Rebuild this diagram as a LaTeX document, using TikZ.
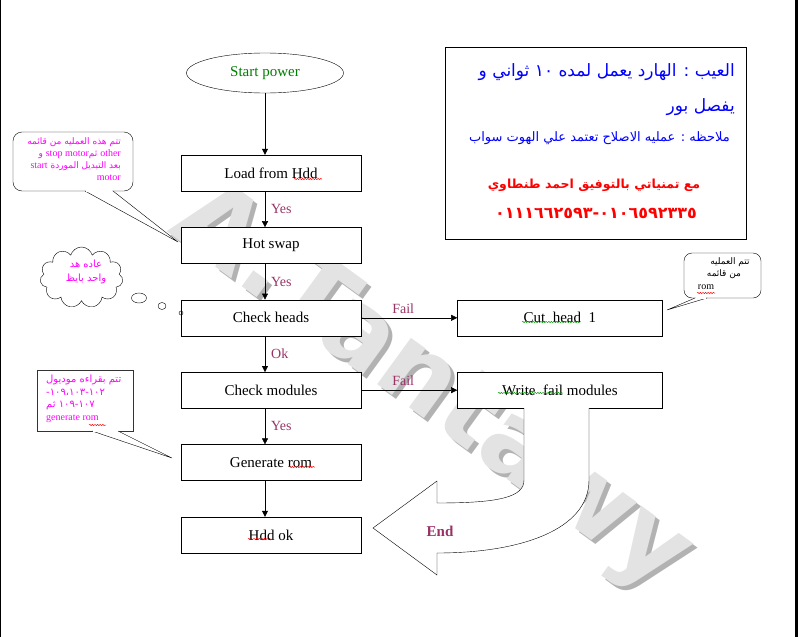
\documentclass[tikz,border=0pt]{standalone}
\usepackage{fontspec}
\setmainfont{Liberation Serif}
\newfontfamily\arfont[Script=Arabic]{DejaVu Sans}
\newfontfamily\wmfont{DejaVu Sans}
\TeXXeTstate=1
\usetikzlibrary{positioning,arrows.meta,shapes.geometric,shapes.symbols,decorations.pathmorphing}
\definecolor{wine}{HTML}{993366}
\definecolor{dgreen}{HTML}{008000}
\definecolor{pinkm}{HTML}{FF00FF}
\definecolor{arblue}{HTML}{0000FF}
\definecolor{arred}{HTML}{FF0000}

\begin{document}
\begin{tikzpicture}[x=1pt,y=-1pt,every node/.style={font=\fontsize{15}{17}\selectfont,inner sep=0pt},
      stepbox/.style={draw,fill=white,minimum width=180pt,minimum height=36pt},
      sidebox/.style={draw,fill=white,minimum width=205pt,minimum height=36pt},
      lbl/.style={text=wine,font=\fontsize{14}{16}\selectfont},
      arr/.style={-{Triangle[length=6pt,width=6pt]},thin},
      sq/.style={decorate,decoration={snake,amplitude=0.6pt,segment length=2.6pt},line width=0.5pt},
      note/.style={font=\arfont\fontsize{9}{12}\selectfont,text=pinkm},
      wmark/.style={rotate=-36,font=\wmfont\bfseries\fontsize{105}{105}\selectfont}]
    \useasboundingbox (0,0) rectangle (798,637);
    \node[wmark,text=gray!60] at (434,394) {A.Tantawy};
    \node[wmark,text=gray!22] (wm) at (430,390) {A.Tantawy};
    \draw[line width=1pt] (0.5,0) -- (0.5,637);
    \draw[line width=3pt] (796.5,0) -- (796.5,637);

    \node[ellipse,draw,fill=white,minimum width=157pt,minimum height=40pt,text=dgreen] (sp) at (265,73) {Start power};
    \node[stepbox] (load) at (271,173) {Load from Hdd};
    \node[stepbox,below=36pt of load] (hot) {Hot swap};
    \node[stepbox,below=36pt of hot] (heads) {Check heads};
    \node[stepbox,below=36pt of heads] (mods) {Check modules};
    \node[stepbox,below=36pt of mods] (gen) {Generate rom};
    \node[stepbox,below=36pt of gen] (hok) {Hdd ok};
    \node[sidebox,right=96pt of heads] (cut) {Cut~ head~ 1};
    \node[sidebox,right=96pt of mods] (wf) {Write~ fail modules};

    \draw[arr] (sp) -- (sp |- load.north);
    \draw[arr] (load.south -| sp) -- node[lbl,right=6pt] {Yes} (hot.north -| sp);
    \draw[arr] (hot.south -| sp) -- node[lbl,right=6pt] {Yes} (heads.north -| sp);
    \draw[arr] (heads.south -| sp) -- node[lbl,right=6pt] {Ok} (mods.north -| sp);
    \draw[arr] (mods.south -| sp) -- node[lbl,right=6pt] {Yes} (gen.north -| sp);
    \draw[arr] (gen.south -| sp) -- (hok.north -| sp);
    \draw[arr] (heads) -- node[lbl,above=4pt,xshift=-6pt] {Fail} (cut);
    \draw[arr] (mods) -- node[lbl,above=4pt,xshift=-6pt] {Fail} (wf);

    \draw[thin,fill=white] (524,408) -- (524,480) .. controls (524,497) and (500,503) .. (437,503) -- (437,481) -- (373,528)
      -- (437,575) -- (437,553) .. controls (520,553) and (589,530) .. (589,480) -- (589,408);
    \node[text=wine,font=\bfseries\fontsize{15}{17}\selectfont] (end) at (440,531) {End};

    \draw[sq,red] (294,179) -- (322,179);
    \draw[sq,red] (289,467) -- (315,467);
    \draw[sq,red] (248,539) -- (272,539);
    \draw[sq,green!60!black] (522,322) -- (580,322);
    \draw[sq,green!60!black] (498,393) -- (563,393);

    \node[draw,fill=white,minimum width=301pt,minimum height=192pt] (info) at (595.5,143) {};
    \node[anchor=east,text=arblue,font=\arfont\fontsize{17}{19}\selectfont] (ar1) at (735,72)
      {\beginR العيب : الهارد يعمل لمده \beginL\mbox{١٠}\endL{} ثواني و\endR};
    \node[anchor=east,text=arblue,font=\arfont\fontsize{17}{19}\selectfont] (ar2) at (735,107) {\beginR يفصل بور\endR};
    \node[anchor=east,text=arblue,font=\arfont\fontsize{13}{15}\selectfont] (ar3) at (730,138)
      {\beginR ملاحظه : عمليه الاصلاح تعتمد علي الهوت سواب\endR};
    \node[text=arred,font=\arfont\bfseries\fontsize{12.5}{15}\selectfont] (ar4) at (594,185)
      {\beginR مع تمنياتي بالتوفيق احمد طنطاوي\endR};
    \node[text=arred,font=\arfont\bfseries\fontsize{16}{18}\selectfont] (ar5) at (596,213)
      {\mbox{٠١١١٦٦٢٥٩٣}\mbox{-}\mbox{٠١٠٦٥٩٢٣٣٥}};

    \node[draw,fill=white,rounded corners=9pt,minimum width=120pt,minimum height=59pt] (c1) at (73,161.5) {};
    \coordinate (t1) at (178,242);
    \draw[fill=white] (85,191) -- (t1) -- (113,191);
    \draw[white,line width=1.2pt] (86,191) -- (112,191);
    \node[note,anchor=north east,align=right] (c1t) at (121,137)
      {\beginR تتم هذه العمليه من قائمه\endR\\
       \mbox{و}~{\rmfamily\fontsize{10}{12}\selectfont stop motor}\mbox{ثم}~{\rmfamily\fontsize{10}{12}\selectfont other}\\
       {\rmfamily\fontsize{10}{12}\selectfont start}~\beginR بعد التبديل الموردة\endR\\
       {\rmfamily\fontsize{10}{12}\selectfont motor}};

    \node[cloud,draw,fill=white,cloud puffs=11,aspect=1.35,minimum width=83pt,minimum height=61pt] (cl) at (81.5,277.5) {};
    \node[note,align=center,font=\arfont\fontsize{10}{14}\selectfont] (clt) at (86,272) {\beginR عاده هد\endR\\\beginR واحد بايظ\endR};
    \draw (139,298) ellipse [x radius=7.5pt,y radius=5pt];
    \draw (162,306) ellipse [x radius=4pt,y radius=3.5pt];
    \draw (181,313) circle [radius=2pt];

    \node[draw,fill=white,rounded corners=8pt,minimum width=77pt,minimum height=45pt] (c3) at (722.5,275.5) {};
    \coordinate (t3) at (667,310);
    \draw[fill=white] (695,298) -- (t3) -- (707,298);
    \draw[white,line width=1.2pt] (696,298) -- (706,298);
    \node[note,text=black] (c3a) at (730,262) {\beginR تتم العمليه\endR};
    \node[note,text=black] (c3b) at (724,274) {\beginR من قائمه\endR};
    \node[note,text=black,font=\fontsize{10}{12}\selectfont] (c3c) at (706,287) {rom};
    \draw[sq,red] (697,293) -- (715,293);

    \node[draw=black!80,fill=white,minimum width=96pt,minimum height=61pt] (c4) at (85,400.5) {};
    \coordinate (t4) at (172,458);
    \draw[fill=white] (92,431) -- (t4) -- (118,431);
    \draw[white,line width=1.2pt] (93,431) -- (117,431);
    \node[note,anchor=north west,align=left,font=\arfont\fontsize{10}{12.5}\selectfont] (c4t) at (46,375)
      {\beginR تتم بقراءه موديول\endR\\
       \mbox{-}\mbox{١٠٩}\mbox{،}\mbox{١٠٣}\mbox{-}\mbox{١٠٢}\\
       \mbox{ثم}~\mbox{١٠٩}\mbox{-}\mbox{١٠٧}\\
       {\rmfamily\fontsize{10}{12}\selectfont generate rom}};
    \draw[sq,red] (89,425) -- (106,425);
  \end{tikzpicture}
\end{document}
